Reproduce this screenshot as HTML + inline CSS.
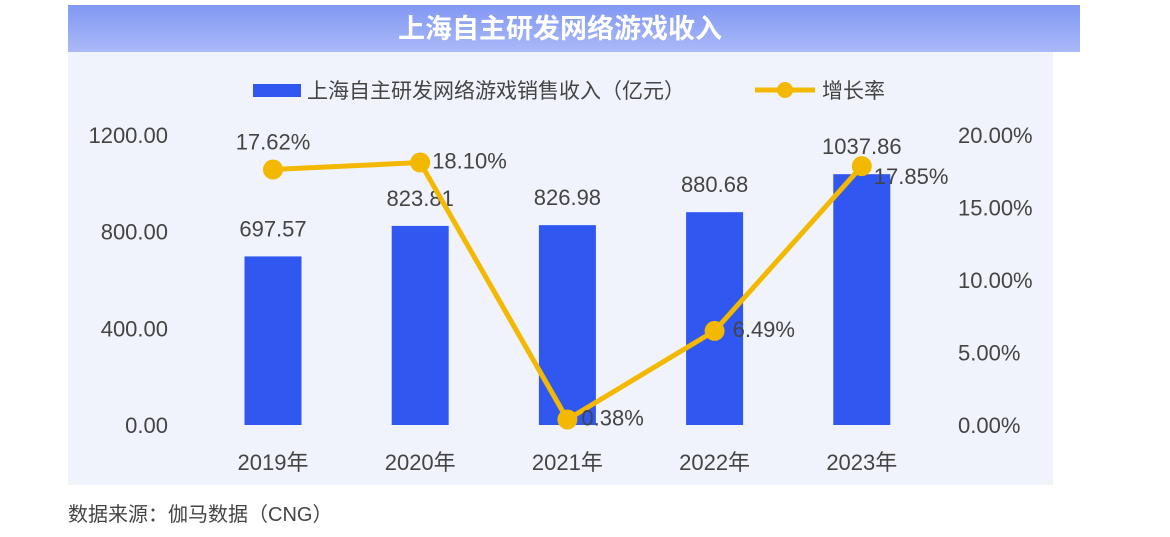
<!DOCTYPE html>
<html><head><meta charset="utf-8"><style>
body{margin:0;width:1170px;height:532px;background:#fff;overflow:hidden;font-family:"Liberation Sans","Noto Sans CJK SC",sans-serif;}
</style></head><body>
<svg width="1170" height="532" xmlns="http://www.w3.org/2000/svg" font-family="Liberation Sans, Noto Sans CJK SC, sans-serif">
<defs><linearGradient id="tg" x1="0" y1="0" x2="0" y2="1"><stop offset="0" stop-color="#8198f3"/><stop offset="1" stop-color="#aab9f8"/></linearGradient></defs>
<rect x="68" y="5" width="1012" height="47" fill="url(#tg)"/>
<text x="560" y="38" font-size="27" font-weight="bold" fill="#fff" text-anchor="middle">上海自主研发网络游戏收入</text>
<rect x="68" y="52" width="985" height="433" fill="#f0f3fc"/>
<rect x="253" y="84" width="48" height="13" fill="#3057f0"/>
<text x="307" y="98" font-size="21" fill="#444">上海自主研发网络游戏销售收入（亿元）</text>
<line x1="755" y1="90" x2="815" y2="90" stroke="#f3b800" stroke-width="5"/>
<circle cx="785" cy="90" r="8" fill="#f3b800"/>
<text x="822" y="98" font-size="21" fill="#444">增长率</text>
<g id="chart"></g>
<text x="68" y="521" font-size="20" fill="#444">数据来源：伽马数据（CNG）</text>
</svg>
<script>
const categories=["2019年","2020年","2021年","2022年","2023年"];
const revenue=[697.57,823.81,826.98,880.68,1037.86];
const growth=[17.62,18.10,0.38,6.49,17.85];
const leftTicks=[0,400,800,1200];
const rightTicks=[0,5,10,15,20];
const NS="http://www.w3.org/2000/svg";
const g=document.getElementById('chart');
const y0=425,y1=135;
const yL=v=>y0-(v/1200)*(y0-y1);
const yR=v=>y0-(v/20)*(y0-y1);
const xC=i=>273+i*147.2;
function mk(t,a,txt){const e=document.createElementNS(NS,t);for(const k in a)e.setAttribute(k,a[k]);if(txt!==undefined)e.textContent=txt;g.appendChild(e);return e;}
leftTicks.forEach(v=>{const e=mk('text',{x:168,y:yL(v)+8,'font-size':22,fill:'#444','text-anchor':'end'},v.toFixed(2));

});
rightTicks.forEach(v=>{const e=mk('text',{x:958,y:yR(v)+8,'font-size':22,fill:'#444'},v.toFixed(2)+'%');

});
categories.forEach((c,i)=>{const e=mk('text',{x:xC(i),y:470,'font-size':22,fill:'#444','text-anchor':'middle'},c);

});
revenue.forEach((v,i)=>{const r=mk('rect',{x:xC(i)-28.5,y:yL(v),width:57,height:y0-yL(v),fill:'#3057f0'});


const t=mk('text',{x:xC(i),y:yL(v)-20,'font-size':22,fill:'#444','text-anchor':'middle'},v.toFixed(2));

});
const pl=mk('polyline',{points:growth.map((v,i)=>xC(i)+','+yR(v)).join(' '),fill:'none',stroke:'#f3b800','stroke-width':5,'stroke-linejoin':'round'});


const offs=[[0,-20,'middle'],[12,6,'start'],[14,6,'start'],[18,6,'start'],[12,18,'start']];
growth.forEach((v,i)=>{const c=mk('circle',{cx:xC(i),cy:yR(v),r:10,fill:'#f3b800'});


const o=offs[i];
const t=mk('text',{x:xC(i)+o[0],y:yR(v)+o[1],'font-size':22,fill:'#444','text-anchor':o[2]},v.toFixed(2)+'%');

});
</script>
</body></html>
